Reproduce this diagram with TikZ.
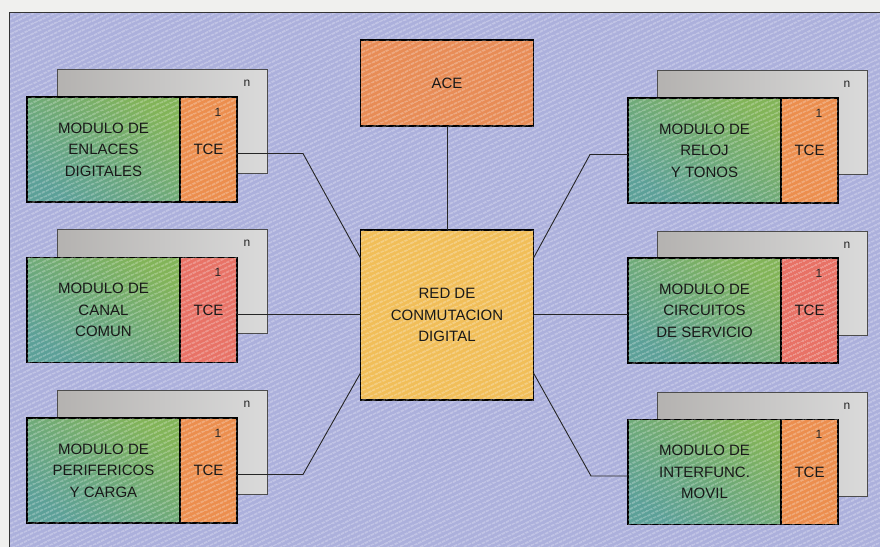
\documentclass[tikz,border=0pt]{standalone}
\usepackage{fontspec}
\setsansfont{Liberation Sans}
\usepackage{tikz}
\usetikzlibrary{positioning,patterns.meta}
\definecolor{panel}{RGB}{172,176,220}
\definecolor{margin}{RGB}{240,240,238}
\definecolor{modg}{RGB}{130,180,88}
\definecolor{modt}{RGB}{92,160,152}
\definecolor{tceo}{RGB}{236,142,78}
\definecolor{tcer}{RGB}{232,114,102}
\definecolor{acec}{RGB}{232,140,86}
\definecolor{redc}{RGB}{241,190,88}
\definecolor{cardl}{RGB}{180,178,176}
\definecolor{cardr}{RGB}{218,218,218}
\tikzset{
  txt/.style  ={font=\sffamily\fontsize{15}{21.5}\selectfont,text=black!90,align=center},
  hatch/.style={postaction={fill opacity=0.4,pattern={Lines[angle=25,distance=4pt,line width=1.2pt]},pattern color=white}},
  card/.style ={draw=black!70,line width=0.8pt,left color=cardl,right color=cardr,minimum width=210,minimum height=104,inner sep=0pt,outer sep=0pt},
  modb/.style ={txt,draw=black,line width=1.6pt,top color=modg,bottom color=modt,shading angle=-35,hatch,minimum width=153,minimum height=105,inner sep=0pt,outer sep=0pt},
  tceb/.style ={txt,draw=black,line width=1.6pt,fill=tceo,hatch,minimum width=57,minimum height=105,inner sep=0pt,outer sep=0pt},
  tcer/.style ={fill=tcer},
  aceb/.style ={txt,draw=black,line width=1.6pt,fill=acec,hatch,minimum width=173,minimum height=86,inner sep=0pt,outer sep=0pt},
  redb/.style ={txt,draw=black,line width=1.6pt,fill=redc,hatch,minimum width=173,minimum height=170,inner sep=0pt,outer sep=0pt},
  idx/.style  ={font=\sffamily\fontsize{12}{12}\selectfont,text=black!85,inner sep=0pt},
  wire/.style ={line width=0.9pt,black!85},
}
\begin{document}
\begin{tikzpicture}[x=1pt,y=-1pt]
  \useasboundingbox (0,0) rectangle (880,547);
  \fill[margin] (0,0) rectangle (880,547);
  \fill[panel,hatch] (9,12) rectangle (880,547);
  \draw[line width=1pt,black!80] (9,547) -- (9,12) -- (880,12);

  % back cards (n)
  \node[card] (bk1) at (162,121) {};
  \node[card] (bk2) at (162,281.5) {};
  \node[card] (bk3) at (162,442) {};
  \node[card] (bk4) at (762,122.5) {};
  \node[card] (bk5) at (762,283.5) {};
  \node[card] (bk6) at (762,444.5) {};
  \node[idx] (n1) at ([shift={(-20,14)}]bk1.north east) {n};
  \node[idx] (n2) at ([shift={(-20,14)}]bk2.north east) {n};
  \node[idx] (n3) at ([shift={(-20,14)}]bk3.north east) {n};
  \node[idx] (n4) at ([shift={(-20,14)}]bk4.north east) {n};
  \node[idx] (n5) at ([shift={(-20,14)}]bk5.north east) {n};
  \node[idx] (n6) at ([shift={(-20,14)}]bk6.north east) {n};

  % modules
  \node[modb] (gr1) at (103.5,149.5) {MODULO DE\\ENLACES\\DIGITALES};
  \node[tceb,right=0pt of gr1] (tc1) {TCE};
  \node[modb] (gr2) at (103.5,310) {MODULO DE\\CANAL\\COMUN};
  \node[tceb,tcer,right=0pt of gr2] (tc2) {TCE};
  \node[modb] (gr3) at (103.5,470.5) {MODULO DE\\PERIFERICOS\\Y CARGA};
  \node[tceb,right=0pt of gr3] (tc3) {TCE};
  \node[modb] (gr4) at (704.5,150.5) {MODULO DE\\RELOJ\\Y TONOS};
  \node[tceb,right=0pt of gr4] (tc4) {TCE};
  \node[modb] (gr5) at (704.5,310.5) {MODULO DE\\CIRCUITOS\\DE SERVICIO};
  \node[tceb,tcer,right=0pt of gr5] (tc5) {TCE};
  \node[modb] (gr6) at (704.5,472) {MODULO DE\\INTERFUNC.\\MOVIL};
  \node[tceb,right=0pt of gr6] (tc6) {TCE};
  \node[idx] (o1) at ([shift={(-19,15)}]tc1.north east) {1};
  \node[idx] (o2) at ([shift={(-19,15)}]tc2.north east) {1};
  \node[idx] (o3) at ([shift={(-19,15)}]tc3.north east) {1};
  \node[idx] (o4) at ([shift={(-19,15)}]tc4.north east) {1};
  \node[idx] (o5) at ([shift={(-19,15)}]tc5.north east) {1};
  \node[idx] (o6) at ([shift={(-19,15)}]tc6.north east) {1};

  % centre
  \node[aceb] (ace) at (447,83) {ACE};
  \node[redb] (red) at (447,315) {RED DE\\CONMUTACION\\DIGITAL};

  \draw[wire] (ace.south) -- (red.north);
  \draw[wire] ([yshift=-4pt]tc1.east) -- ++(66,0) -- ([yshift=-28pt]red.north west);
  \draw[wire] ([yshift=-4pt]tc2.east) -- ([yshift=-4pt]tc2.east -| red.west);
  \draw[wire] ([yshift=-4pt]tc3.east) -- ++(66,0) -- ([yshift=27pt]red.south west);
  \draw[wire] ([yshift=-4pt]gr4.west) -- ++(-38,0) -- ([yshift=-28pt]red.north east);
  \draw[wire] ([yshift=-4pt]gr5.west) -- ([yshift=-4pt]gr5.west -| red.east);
  \draw[wire] ([yshift=-4pt]gr6.west) -- ++(-37,0) -- ([yshift=27pt]red.south east);
\end{tikzpicture}
\end{document}
